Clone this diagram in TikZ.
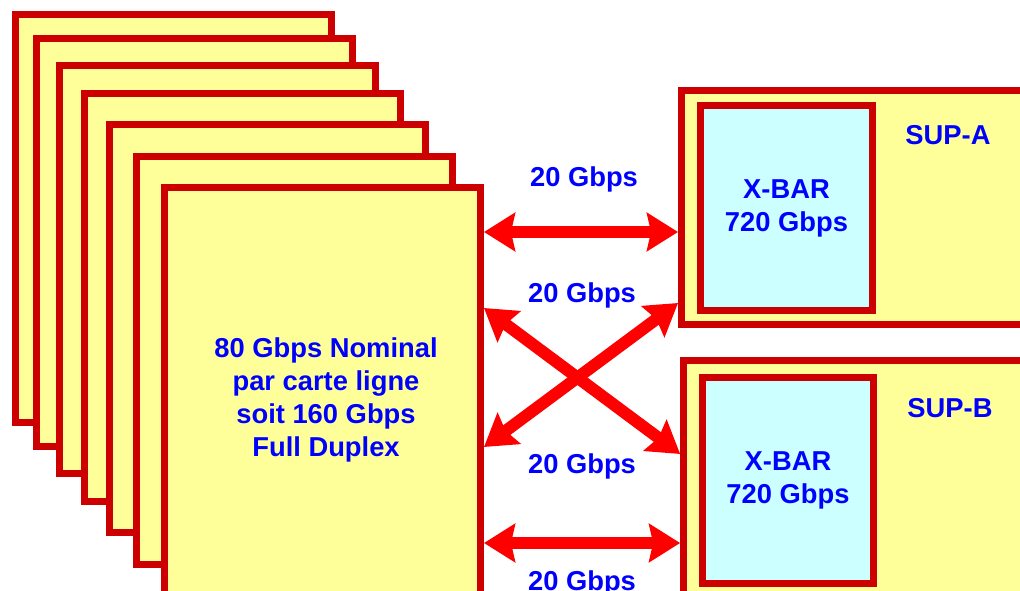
\documentclass[tikz,border=0pt]{standalone}
\usepackage{fontspec}
\setmainfont{Liberation Sans}
\usepackage{xcolor}
\usepackage{tikz}
\usetikzlibrary{arrows.meta}

\definecolor{cardred}{HTML}{CC0000}
\definecolor{cardyellow}{HTML}{FFFF99}
\definecolor{xbarcyan}{HTML}{CCFFFF}
\definecolor{linkred}{HTML}{FF0000}
\definecolor{textblue}{HTML}{0000FF}

\newcommand{\bigfont}{\fontsize{20.5}{24.75}\selectfont\bfseries}

\begin{document}
\begin{tikzpicture}[
    x=0.75pt,
    y=-0.75pt,
    card/.style={
        draw=cardred,
        fill=cardyellow,
        line width=5pt,
        inner sep=0pt,
        minimum width=237.2pt,
        minimum height=306.2pt
    },
    sup/.style={
        draw=cardred,
        fill=cardyellow,
        line width=5pt,
        inner sep=0pt
    },
    xbar/.style={
        draw=cardred,
        fill=xbarcyan,
        line width=5pt,
        inner sep=0pt,
        align=center,
        text=textblue,
        font=\bigfont
    },
    rate/.style={
        anchor=base,
        text=textblue,
        font=\bigfont
    },
    link/.style={
        {Stealth[length=23.25pt, width=28.5pt, inset=3pt]}-{Stealth[length=23.25pt, width=28.5pt, inset=3pt]},
        draw=linkred,
        line width=9pt
    }
]

\useasboundingbox (0,0) rectangle (1020,591);
\clip (0,0) rectangle (1020,591);

% line cards, back to front
\foreach \x/\y [count=\i] in {173.5/218.5, 194.5/242.5, 217.5/269.5, 242.5/297.5,
                              267.5/328.5, 294.5/360.5, 322.5/391.5}
    \node[card] (card\i) at (\x,\y) {};

\node[align=center, text=textblue, font=\bigfont] (cardtext) at (326,400) {
    80 Gbps Nominal\\
    par carte ligne\\
    soit 160 Gbps\\
    Full Duplex
};

% supervisors
\node[sup, minimum width=269pt, minimum height=175.8pt] (supa) at (860.7,207.5) {};
\node[sup, minimum width=267.4pt, minimum height=209.8pt] (supb) at (861.75,500.2) {};

\node[xbar, minimum width=129.3pt, minimum height=154pt] (xbara) at (786.5,208) {
    X-BAR\\
    720 Gbps
};
\node[xbar, minimum width=128.5pt, minimum height=154.8pt] (xbarb) at (788,480.5) {
    X-BAR\\
    720 Gbps
};

\node[rate] (supalabel) at (948,145) {SUP-A};
\node[rate] (supblabel) at (950,417) {SUP-B};

% links
\draw[link] (card7.east |- 0,232) -- (supa.west |- 0,232);
\draw[link] (card7.east |- 0,308) -- (supb.west |- 0,454);
\draw[link] (card7.east |- 0,447) -- (supa.west |- 0,303);
\draw[link] (card7.east |- 0,543) -- (supb.west |- 0,543);

\node[rate] (rate1) at (584,187) {20 Gbps};
\node[rate] (rate2) at (582,303) {20 Gbps};
\node[rate] (rate3) at (582,473) {20 Gbps};
\node[rate] (rate4) at (582,590) {20 Gbps};

\end{tikzpicture}
\end{document}
